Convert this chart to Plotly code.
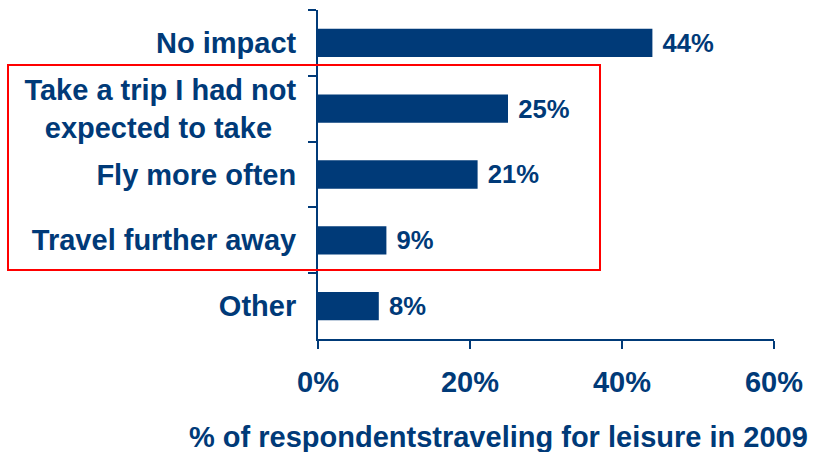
import plotly.graph_objects as go

categories = ["No impact",
              "Take a trip I had not<br>expected to take\u00a0\u00a0\u00a0",
              "Fly more often",
              "Travel further away",
              "Other"]
values = [44, 25, 21, 9, 8]
x_ticks = [0, 20, 40, 60]
x_tick_labels = ["0%", "20%", "40%", "60%"]
axis_title = "% of respondentstraveling for leisure in 2009"

NAVY = "#003A78"
FONT = "Liberation Sans, Arial, sans-serif"
FS = 29

fig = go.Figure(go.Bar(
    x=values, y=categories, orientation="h",
    marker=dict(color=NAVY, line=dict(width=0)),
    text=[f"\u00a0{v}%" for v in values], textposition="outside",
    textfont=dict(family=FONT, size=FS, color=NAVY, weight="bold"),
    cliponaxis=False,
))

fig.update_layout(
    width=821, height=452,
    margin=dict(l=318, r=47, t=10, b=113),
    plot_bgcolor="white", paper_bgcolor="white",
    bargap=0.57, showlegend=False,
    font=dict(family=FONT, size=FS, color=NAVY, weight="bold"),
    uniformtext=dict(minsize=FS),
)
fig.update_xaxes(
    range=[0, 60], tickvals=x_ticks, ticktext=x_tick_labels,
    showgrid=False, zeroline=False, showline=True, linecolor=NAVY, linewidth=2,
    ticks="outside", ticklen=8, tickwidth=2, tickcolor=NAVY,
    tickfont=dict(family=FONT, size=FS, color=NAVY, weight="bold"),
    ticklabelstandoff=8,
)
fig.update_yaxes(
    autorange="reversed", showgrid=False, showline=True, linecolor=NAVY, linewidth=2,
    ticks="outside", tickson="boundaries", ticklen=8, tickwidth=2, tickcolor=NAVY,
    tickfont=dict(family=FONT, size=FS, color=NAVY, weight="bold"),
    ticklabelstandoff=14,
)
fig.add_annotation(
    text=f"<b>{axis_title}</b>", xref="paper", yref="paper",
    x=(498.5 - 318) / 456, y=(339 - 437) / 329, xanchor="center", yanchor="middle",
    showarrow=False, font=dict(family=FONT, size=FS, color=NAVY),
)
fig.add_shape(
    type="rect", xref="paper", yref="paper",
    x0=(8 - 318) / 456, x1=(600 - 318) / 456,
    y0=(339 - 270) / 329, y1=(339 - 65) / 329,
    line=dict(color="#FF0000", width=2), fillcolor="rgba(0,0,0,0)",
)
fig.write_html("out.html", config={"displayModeBar": False},
               post_script="document.body.style.margin='0';document.body.style.overflow='hidden';")
